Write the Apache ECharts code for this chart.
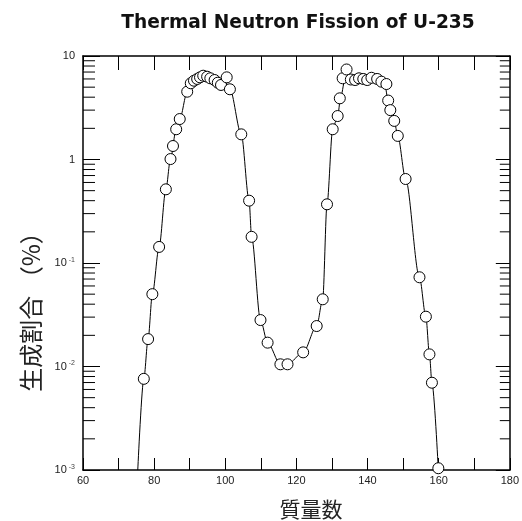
<!DOCTYPE html>
<html>
<head>
<meta charset="utf-8">
<title>Thermal Neutron Fission of U-235</title>
<script src="https://cdn.jsdelivr.net/npm/echarts@6/dist/echarts.min.js"></script>
</head>
<body style="margin:0;background:#fff">
<div id="main" style="width:522px;height:521px;"></div>
<script>
// measured points (mass number, yield %)
var massNumber = [77.1, 78.3, 79.5, 81.4, 83.3, 84.6, 85.3, 86.2, 87.2, 89.3, 90.3, 91.2, 92.1, 92.9, 93.8, 94.9, 95.8, 97.0, 97.9, 98.8, 100.4, 101.3,
  104.5, 106.7, 107.4, 109.9, 111.9, 115.5, 117.5, 121.9, 125.7, 127.4, 128.6,
  130.2, 131.6, 132.2, 133.0, 134.1, 135.3, 136.5, 137.6, 138.8, 139.9, 141.1, 142.7, 143.9, 145.3, 145.8, 146.4, 147.5, 148.5, 150.7,
  154.6, 156.4, 157.4, 158.1, 159.9];
var fissionYield = [0.0076, 0.0184, 0.050, 0.143, 0.515, 1.01, 1.35, 1.96, 2.46, 4.52, 5.45, 5.77, 6.0, 6.22, 6.45, 6.31, 6.09, 5.86, 5.52, 5.25, 6.22, 4.77,
  1.75, 0.40, 0.179, 0.0281, 0.0170, 0.0105, 0.0105, 0.0137, 0.0246, 0.0446, 0.369,
  1.96, 2.63, 3.90, 6.09, 7.41, 5.93, 5.86, 6.09, 6.0, 5.86, 6.16, 6.0, 5.65, 5.36, 3.71, 3.0, 2.36, 1.69, 0.648,
  0.0728, 0.0303, 0.0131, 0.00697, 0.00104];

// drawn fit curve
var curveMass = [75.4, 77.1, 78.3, 79.5, 81.4, 83.3, 84.6, 86.2, 87.2, 89.3, 90.5, 92.0, 94.0, 96.0, 98.0, 100.0, 101.3,
  104.5, 106.7, 107.4, 109.9, 111.9, 115.5, 117.5, 121.9, 125.7, 127.4, 128.6,
  130.2, 131.6, 132.4, 133.6, 136.0, 140.0, 143.0, 144.8, 145.8, 146.4, 147.5, 148.5, 150.7,
  154.6, 156.4, 157.4, 158.1, 159.9];
var curveYield = [0.001, 0.0076, 0.0184, 0.050, 0.143, 0.515, 1.01, 1.96, 2.46, 4.5, 5.4, 6.0, 6.3, 6.2, 5.8, 5.6, 4.8,
  1.75, 0.40, 0.179, 0.0281, 0.0170, 0.0105, 0.0105, 0.0137, 0.0246, 0.0446, 0.369,
  1.96, 2.63, 3.9, 5.8, 6.0, 6.0, 5.9, 5.4, 3.71, 3.0, 2.36, 1.69, 0.648,
  0.0728, 0.0303, 0.0131, 0.00697, 0.001];

var minorTicks = [];
[0.001, 0.01, 0.1, 1].forEach(function (d) {
  for (var k = 2; k <= 9; k++) minorTicks.push(d * k);
});

var xMin = 60, xMax = 180;

var myChart = echarts.init(document.getElementById('main'));

function pairs(xs, ys) {
  var res = [];
  for (var i = 0; i < xs.length; i++) res.push([xs[i], ys[i]]);
  return res;
}

var tickFont = 'Liberation Sans, Arial, sans-serif';

var option = {
  backgroundColor: '#fff',
  animation: false,
  title: {
    text: 'Thermal Neutron Fission of U-235',
    left: 293, top: 9, textAlign: 'center',
    textStyle: { fontFamily: 'DejaVu Sans', fontWeight: 'bold', fontSize: 18.6, color: '#111' }
  },
  grid: { left: 83, right: 7, top: 56, bottom: 51 },
  xAxis: [{
    type: 'value', min: xMin, max: xMax, interval: 10, position: 'bottom',
    axisLine: { lineStyle: { color: '#000', width: 1.5 } },
    axisTick: { inside: true, length: 12, lineStyle: { color: '#000' } },
    axisLabel: {
      margin: 5, color: '#222', fontFamily: tickFont, fontSize: 11,
      formatter: function (v) { return v % 20 === 0 ? String(v) : ''; }
    },
    splitLine: { show: false }
  }, {
    type: 'value', min: xMin, max: xMax, interval: 10, position: 'top',
    axisLine: { lineStyle: { color: '#000', width: 1.5 } },
    axisTick: { inside: true, length: 14, lineStyle: { color: '#000' } },
    axisLabel: { show: false },
    splitLine: { show: false }
  }],
  yAxis: [{
    type: 'log', logBase: 10, min: 0.001, max: 10, position: 'left',
    axisLine: { show: true, lineStyle: { color: '#000', width: 1.5 } },
    axisTick: { inside: true, length: 17, lineStyle: { color: '#000' } },
    axisLabel: {
      margin: 8, color: '#222', fontFamily: tickFont, fontSize: 11,
      formatter: function (v) {
        var e = Math.round(Math.log10(v));
        if (e === 1) return '10';
        if (e === 0) return '1';
        return '10{s|' + e + '}';
      },
      rich: { s: { fontSize: 7, verticalAlign: 'top', padding: [0, 0, 6, 2], color: '#444' } }
    },
    splitLine: { show: false }
  }, {
    type: 'log', logBase: 10, min: 0.001, max: 10, position: 'right',
    axisLine: { show: true, lineStyle: { color: '#000', width: 1.5 } },
    axisTick: { inside: true, length: 14, lineStyle: { color: '#000' } },
    axisLabel: { show: false },
    splitLine: { show: false }
  }],
  graphic: [{
    type: 'text', x: 31, y: 306, rotation: Math.PI / 2,
    style: { text: '生成割合 （%）', font: '24px "Noto Sans CJK JP"', fill: '#222', textAlign: 'center', textVerticalAlign: 'middle' }
  }, {
    type: 'text', x: 311, y: 509,
    style: { text: '質量数', font: '21px "Noto Sans CJK JP"', fill: '#222', textAlign: 'center', textVerticalAlign: 'middle' }
  }],
  series: [{
    name: 'minor ticks', type: 'custom', xAxisIndex: 0, yAxisIndex: 0,
    data: minorTicks.map(function (v) { return [xMin, v]; }),
    encode: { x: 0, y: 1 },
    renderItem: function (params, api) {
      var v = api.value(1);
      var l = api.coord([xMin, v]);
      var r = api.coord([xMax, v]);
      return {
        type: 'group',
        children: [
          { type: 'line', shape: { x1: l[0], y1: l[1], x2: l[0] + 12, y2: l[1] }, style: { stroke: '#000', lineWidth: 1 } },
          { type: 'line', shape: { x1: r[0] - 10, y1: r[1], x2: r[0], y2: r[1] }, style: { stroke: '#000', lineWidth: 1 } }
        ]
      };
    },
    silent: true, z: 1
  }, {
    name: 'curve', type: 'line', xAxisIndex: 0, yAxisIndex: 0,
    data: pairs(curveMass, curveYield),
    smooth: 0.3, smoothMonotone: 'x', showSymbol: false,
    lineStyle: { color: '#000', width: 1 },
    z: 2
  }, {
    name: 'yield', type: 'scatter', xAxisIndex: 0, yAxisIndex: 0,
    data: pairs(massNumber, fissionYield),
    symbol: 'circle', symbolSize: 11,
    itemStyle: { color: '#fff', borderColor: '#000', borderWidth: 1, opacity: 1 },
    z: 3
  }]
};

myChart.setOption(option);
</script>
</body>
</html>
